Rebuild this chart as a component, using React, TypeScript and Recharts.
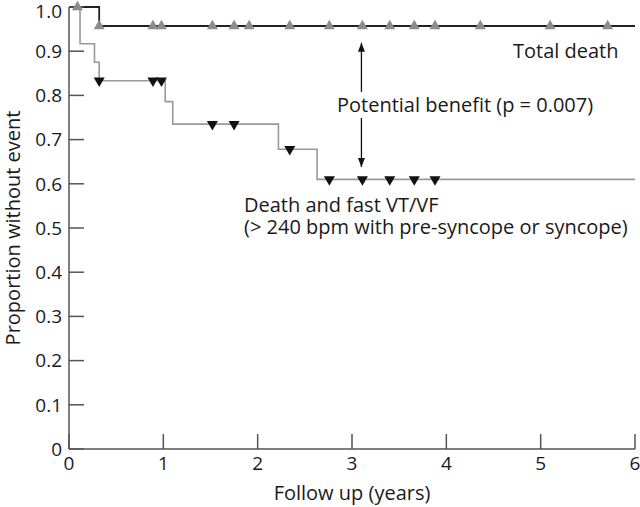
import React from "react";
import {
  ComposedChart,
  Line,
  Scatter,
  XAxis,
  YAxis,
  ReferenceLine,
  ReferenceDot,
  Customized,
} from "recharts";

// Axis ticks
const xTicks = [0, 1, 2, 3, 4, 5, 6];
const yTicks = [0, 0.1, 0.2, 0.3, 0.4, 0.5, 0.6, 0.7, 0.8, 0.9, 1.0];

// Total death curve (step)
const totalTimes = [0, 0.32, 6];
const totalValues = [1, 0.957, 0.957];
const totalCensorTimes = [0.09, 0.32, 0.89, 0.98, 1.52, 1.75, 1.91, 2.34, 2.76, 3.11, 3.4, 3.66, 3.88, 4.36, 5.1, 5.71];
const totalCensorValues = [1, 0.957, 0.957, 0.957, 0.957, 0.957, 0.957, 0.957, 0.957, 0.957, 0.957, 0.957, 0.957, 0.957, 0.957, 0.957];

// Death and fast VT/VF curve (step)
const vtTimes = [0, 0.117, 0.27, 0.32, 1.02, 1.1, 2.22, 2.63, 6];
const vtValues = [1, 0.917, 0.875, 0.833, 0.786, 0.735, 0.678, 0.61, 0.61];
const vtCensorTimes = [0.32, 0.89, 0.98, 1.52, 1.75, 2.34, 2.76, 3.11, 3.4, 3.66, 3.88];
const vtCensorValues = [0.833, 0.833, 0.833, 0.735, 0.735, 0.678, 0.61, 0.61, 0.61, 0.61, 0.61];

// "Potential benefit" arrow
const arrowTime = 3.1;
const arrowTop = 0.919;
const arrowGapTop = 0.808;
const arrowGapBottom = 0.749;
const arrowBottom = 0.638;

const toPoints = (times: number[], values: number[]) =>
  times.map((t, i) => ({ t, s: values[i] }));

const totalData = toPoints(totalTimes, totalValues);
const totalCensor = toPoints(totalCensorTimes, totalCensorValues);
const vtData = toPoints(vtTimes, vtValues);
const vtCensor = toPoints(vtCensorTimes, vtCensorValues);

const FONT = "'Open Sans', 'DejaVu Sans', sans-serif";
const AXIS = "#555";

const UpTriangle = (props: any) => {
  const { cx, cy, fill } = props;
  return (
    <polygon
      points={`${cx},${cy - 6.3} ${cx - 5.5},${cy + 3.2} ${cx + 5.5},${cy + 3.2}`}
      fill={fill}
    />
  );
};

const DownTriangle = (props: any) => {
  const { cx, cy, fill } = props;
  return (
    <polygon
      points={`${cx},${cy + 6.3} ${cx - 5.5},${cy - 3.2} ${cx + 5.5},${cy - 3.2}`}
      fill={fill}
    />
  );
};

const ArrowHeadUp = (props: any) => {
  const { cx, cy } = props;
  return <polygon points={`${cx},${cy} ${cx - 3.5},${cy + 9} ${cx + 3.5},${cy + 9}`} fill="#111" />;
};

const ArrowHeadDown = (props: any) => {
  const { cx, cy } = props;
  return <polygon points={`${cx},${cy} ${cx - 3.5},${cy - 9} ${cx + 3.5},${cy - 9}`} fill="#111" />;
};

const Annotations = () => (
  <g fontFamily={FONT} fill="#1a1a1a" fontSize={20}>
    <text x={513} y={58}>Total death</text>
    <text x={337} y={112}>Potential benefit (p = 0.007)</text>
    <text x={244} y={212}>
      <tspan x={244} y={212}>Death and fast VT/VF</tspan>
      <tspan x={244} dy={22}>(&gt; 240 bpm with pre-syncope or syncope)</tspan>
    </text>
    <text x={352} y={500} textAnchor="middle">Follow up (years)</text>
    <text x={20} y={228} textAnchor="middle" transform="rotate(-90 20 228)">
      Proportion without event
    </text>
  </g>
);

const App = () => {
  return (
    <div style={{ position: "absolute", left: 0, top: 0, width: 640, height: 507, background: "#fff" }}>
      <ComposedChart width={640} height={507} margin={{ top: 7, right: 5, bottom: 18, left: 9 }}>
        <XAxis
          dataKey="t"
          type="number"
          domain={[0, 6]}
          ticks={xTicks}
          height={40}
          tickSize={-15}
          tickMargin={23}
          axisLine={{ stroke: AXIS, strokeWidth: 1.5 }}
          tickLine={{ stroke: AXIS, strokeWidth: 1.5 }}
          tick={{ fill: "#1a1a1a", fontSize: 19, fontFamily: FONT }}
        />
        <YAxis
          dataKey="s"
          type="number"
          domain={[0, 1]}
          ticks={yTicks}
          width={60}
          tickSize={-15}
          tickMargin={22}
          tickFormatter={(v: number) => (v === 0 ? "0" : v.toFixed(1))}
          axisLine={{ stroke: AXIS, strokeWidth: 1.5 }}
          tickLine={{ stroke: AXIS, strokeWidth: 1.5 }}
          tick={{ fill: "#1a1a1a", fontSize: 19, fontFamily: FONT }}
        />
        <Line
          data={vtData}
          dataKey="s"
          type="stepAfter"
          stroke="#999"
          strokeWidth={1.6}
          dot={false}
          isAnimationActive={false}
        />
        <Line
          data={totalData}
          dataKey="s"
          type="stepAfter"
          stroke="#222"
          strokeWidth={1.8}
          dot={false}
          isAnimationActive={false}
        />
        <Scatter
          data={totalCensor}
          dataKey="s"
          fill="#8c8c8c"
          shape={UpTriangle}
          isAnimationActive={false}
        />
        <Scatter
          data={vtCensor}
          dataKey="s"
          fill="#111"
          shape={DownTriangle}
          isAnimationActive={false}
        />
        <ReferenceLine
          segment={[{ x: arrowTime, y: arrowTop }, { x: arrowTime, y: arrowGapTop }]}
          stroke="#111"
          strokeWidth={1.3}
        />
        <ReferenceLine
          segment={[{ x: arrowTime, y: arrowGapBottom }, { x: arrowTime, y: arrowBottom }]}
          stroke="#111"
          strokeWidth={1.3}
        />
        <ReferenceDot x={arrowTime} y={arrowTop} shape={ArrowHeadUp} />
        <ReferenceDot x={arrowTime} y={arrowBottom} shape={ArrowHeadDown} />
        <Customized component={Annotations} />
      </ComposedChart>
    </div>
  );
};

export default App;
